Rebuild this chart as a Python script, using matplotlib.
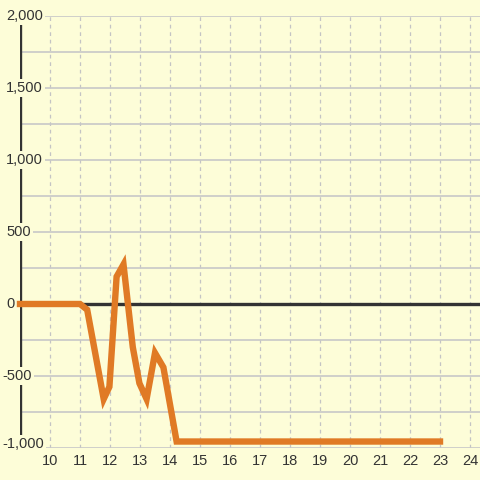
import matplotlib
matplotlib.use('Agg')
import matplotlib.pyplot as plt
import matplotlib.transforms as mtransforms

# values
x_vals = [9, 11.0, 11.24, 11.79, 11.98, 12.22, 12.45, 12.76, 12.98, 13.22,
          13.5, 13.78, 14.22, 23]
y_vals = [0, 0, -40, -660, -575, 190, 275, -300, -550, -660,
          -340, -440, -955, -955]

x_ticks = list(range(10, 25))
y_grid = list(range(-1000, 2001, 250))
y_labels = [2000, 1500, 1000, 500, 0, -500, -1000]

bg = '#FDFDD8'
dark = '#333333'
grid_col = '#C8C8C8'

plt.rcParams['font.family'] = ['Liberation Sans', 'DejaVu Sans']

fig = plt.figure(figsize=(4.8, 4.8), dpi=100, facecolor=bg)
ax = fig.add_axes([20 / 480, 32 / 480, 460 / 480, 432 / 480], facecolor=bg)

ax.set_xlim(9, 9 + 460 / 30)
ax.set_ylim(-1000, 2000)
for s in ax.spines.values():
    s.set_visible(False)

ax.set_xticks(x_ticks)
ax.set_yticks(y_grid)
ax.tick_params(axis='x', length=0, pad=4, labelsize=10.5, labelcolor=dark)
ax.tick_params(axis='y', length=0, labelleft=False)
ax.set_axisbelow(True)
ax.grid(axis='x', color='#C4C4C4', linestyle=(0, (3, 3)), linewidth=0.9)
ax.grid(axis='y', color=grid_col, linewidth=1.2)

# y axis line and zero line
ax.axvline(9, color=dark, linewidth=2.4, zorder=2)
ax.axhline(0, color=dark, linewidth=2.4, zorder=2)

# y labels sit on top of the axis line with a background box
trans = mtransforms.blended_transform_factory(fig.transFigure, ax.transData)
for v in y_labels:
    xpos = 2 / 480 if v < 0 else 6 / 480
    ax.text(xpos, v, f'{v:,}', transform=trans, ha='left',
            va='baseline' if v == -1000 else 'center',
            fontsize=10.5, color=dark, zorder=4, clip_on=False,
            bbox=dict(boxstyle='square,pad=0.15', facecolor=bg,
                      edgecolor='none'))

ax.plot(x_vals, y_vals, color='#E07A25', linewidth=4.6,
        solid_capstyle='projecting', solid_joinstyle='miter', zorder=5,
        clip_on=False)

fig.savefig('out.png', dpi=100, facecolor=bg)
